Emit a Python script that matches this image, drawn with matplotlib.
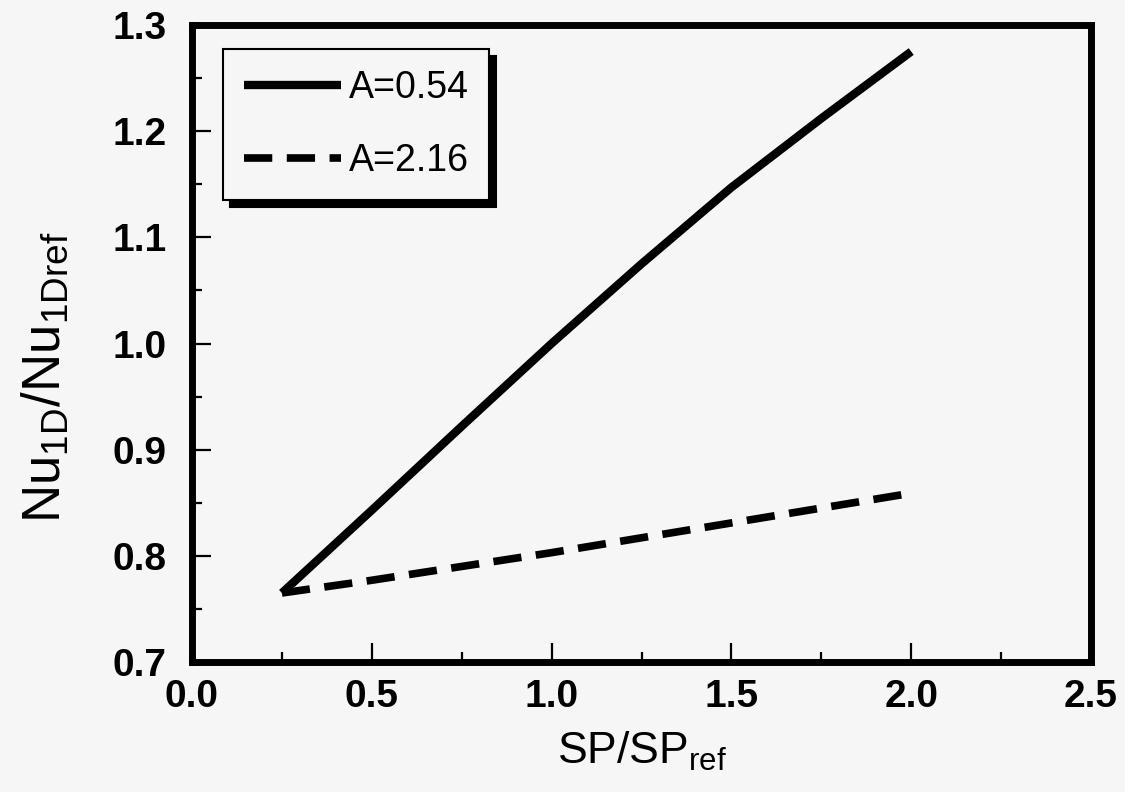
import matplotlib
matplotlib.use("Agg")
import matplotlib.pyplot as plt
from matplotlib.ticker import MultipleLocator, FormatStrFormatter

plt.rcParams["font.family"] = ["Liberation Sans", "DejaVu Sans"]
plt.rcParams["mathtext.fontset"] = "custom"
plt.rcParams["mathtext.rm"] = "Liberation Sans"
plt.rcParams["mathtext.default"] = "regular"

# razao SP/SP_ref
sp = [0.25, 0.5, 0.75, 1.0, 1.25, 1.5, 1.75, 2.0]

# Nu_1D / Nu_1Dref para cada A
nu_a054 = [0.765, 0.843, 0.922, 1.000, 1.075, 1.147, 1.212, 1.275]
nu_a216 = [0.765, 0.777, 0.790, 0.803, 0.817, 0.831, 0.845, 0.859]

rotulos = ["A=0.54", "A=2.16"]

fundo = "#f6f6f6"

fig = plt.figure(figsize=(11.25, 7.92), dpi=100, facecolor=fundo)
ax = fig.add_axes([192 / 1125, 1 - 662 / 792, (1091 - 192) / 1125, (662 - 25) / 792])
ax.set_facecolor(fundo)

ax.plot(sp, nu_a054, color="black", lw=6, solid_capstyle="butt", label=rotulos[0])
ax.plot(sp, nu_a216, color="black", lw=5.5, dashes=(3.7, 1.9),
        dash_capstyle="butt", label=rotulos[1])

ax.set_xlim(0, 2.5)
ax.set_ylim(0.7, 1.3)

ax.xaxis.set_major_locator(MultipleLocator(0.5))
ax.xaxis.set_minor_locator(MultipleLocator(0.25))
ax.yaxis.set_major_locator(MultipleLocator(0.1))
ax.yaxis.set_minor_locator(MultipleLocator(0.05))
ax.xaxis.set_major_formatter(FormatStrFormatter("%.1f"))
ax.yaxis.set_major_formatter(FormatStrFormatter("%.1f"))

for lado in ax.spines.values():
    lado.set_linewidth(5)

ax.tick_params(which="both", direction="in", top=False, right=False, width=1.6)
ax.tick_params(which="major", length=14)
ax.tick_params(which="minor", length=7)
ax.tick_params(axis="x", which="major", pad=12, labelsize=28)
ax.tick_params(axis="y", which="major", pad=18, labelsize=28)
for t in ax.get_xticklabels() + ax.get_yticklabels():
    t.set_fontweight("bold")

ax.set_xlabel("SP/SP$_{ref}$", fontsize=32, labelpad=11)
ax.set_ylabel("Nu$_{1D}$/Nu$_{1Dref}$", fontsize=38)
ax.yaxis.set_label_coords(-0.135, 0.447)

leg = ax.legend(loc="upper left", bbox_to_anchor=(223 / 1125, 1 - 49 / 792),
                bbox_transform=fig.transFigure, borderaxespad=0,
                fontsize=27, handlelength=2.6, handletextpad=0.2,
                labelspacing=1.0, borderpad=0.55, fancybox=False,
                framealpha=1, edgecolor="black",
                shadow={"ox": 5, "oy": -5, "color": "black", "alpha": 1})
leg.get_frame().set_linewidth(1.5)
leg.get_frame().set_facecolor(fundo)

fig.savefig("out.png", dpi=100, facecolor=fundo)
